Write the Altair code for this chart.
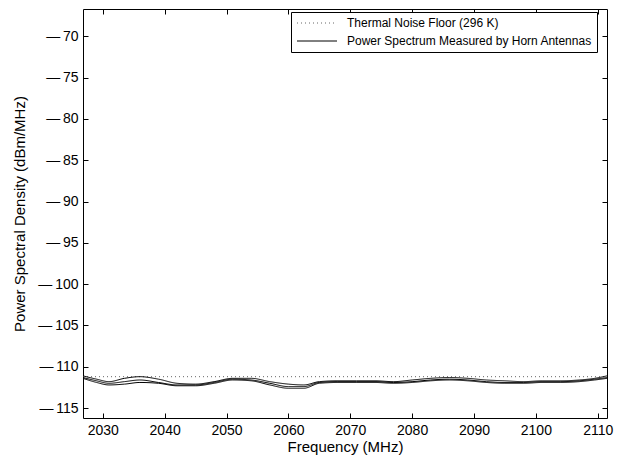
import altair as alt
import pandas as pd

# ---- data ----
freq = [2026.8, 2029, 2031, 2033.5, 2036, 2039, 2042, 2045, 2048, 2051, 2054, 2057,
        2060, 2062.5, 2065, 2068, 2071, 2074, 2077, 2080, 2083, 2086, 2089, 2092,
        2095, 2098, 2101, 2104, 2107, 2109.5, 2111.5]
curve_a = [-111.3, -111.7, -112.0, -111.8, -111.6, -111.9, -112.2, -112.2, -111.9, -111.5,
           -111.6, -112.0, -112.4, -112.4, -111.9, -111.8, -111.8, -111.8, -111.9, -111.8,
           -111.6, -111.5, -111.6, -111.8, -111.9, -111.9, -111.8, -111.8, -111.7, -111.5, -111.3]
curve_b = [-111.1, -111.5, -111.8, -111.4, -111.2, -111.5, -112.0, -112.1, -111.8, -111.4,
           -111.4, -111.8, -112.1, -112.2, -111.8, -111.7, -111.7, -111.7, -111.8, -111.6,
           -111.4, -111.3, -111.4, -111.6, -111.7, -111.8, -111.7, -111.7, -111.6, -111.4, -111.1]
curve_c = [-111.4, -111.9, -112.2, -112.1, -111.9, -112.0, -112.3, -112.3, -112.0, -111.6,
           -111.7, -112.2, -112.6, -112.6, -112.0, -111.9, -111.9, -111.9, -112.0, -111.9,
           -111.7, -111.6, -111.7, -111.9, -112.0, -112.0, -111.9, -111.9, -111.8, -111.6, -111.4]
floor_level = -111.2
series_names = ["Thermal Noise Floor (296 K)", "Power Spectrum Measured by Horn Antennas"]
x_ticks = [2030, 2040, 2050, 2060, 2070, 2080, 2090, 2100, 2110]
y_ticks = [-115, -110, -105, -100, -95, -90, -85, -80, -75, -70]
x_domain = [2026.8, 2111.5]
y_domain = [-116.2, -66.7]

W, H = 524, 409
FONT = "Liberation Sans"

curve_rows = []
for cid, vals in (("a", curve_a), ("b", curve_b), ("c", curve_c)):
    for f, v in zip(freq, vals):
        curve_rows.append({"f": f, "p": v, "series": series_names[1], "curve": cid})
curves_df = pd.DataFrame(curve_rows)
floor_df = pd.DataFrame({"f": x_domain, "p": [floor_level, floor_level],
                         "series": [series_names[0]] * 2})

xscale = alt.Scale(domain=x_domain, nice=False, zero=False)
yscale = alt.Scale(domain=y_domain, nice=False, zero=False)

legend = alt.Legend(title=None, orient="none", legendX=208, legendY=3,
                    strokeColor="black", fillColor="white", padding=5,
                    symbolType="M-4,0H4", symbolSize=100, symbolStrokeWidth=1,
                    symbolFillColor="transparent", symbolOffset=15,
                    labelFontSize=12, labelFont=FONT, labelColor="black",
                    labelLimit=500, rowPadding=6, labelOffset=24, cornerRadius=0)
color = alt.Color("series:N", scale=alt.Scale(domain=series_names, range=["#666666", "black"]),
                  legend=legend)
dash = alt.StrokeDash("series:N", scale=alt.Scale(domain=series_names, range=[[1, 3], [1, 0]]),
                      legend=legend)

tick_axis = dict(labels=False, ticks=True, tickSize=5, tickColor="black", domain=False,
                 grid=False, title=None)

main_x = alt.Axis(values=x_ticks, orient="bottom", ticks=False, domain=False, grid=False,
                  format="d",
                  labelFont=FONT, labelFontSize=14, labelColor="black", labelPadding=5,
                  title="Frequency (MHz)", titleFont=FONT, titleFontSize=15,
                  titleFontWeight="normal", titleColor="black", titlePadding=2)
main_y = alt.Axis(values=y_ticks, orient="left", ticks=False, domain=False, grid=False,
                  labelExpr="datum.value < 0 ? '\u2014\u2009' + abs(datum.value) : '' + datum.value",
                  labelFont=FONT, labelFontSize=14, labelColor="black", labelPadding=5,
                  title="Power Spectral Density (dBm/MHz)", titleFont=FONT, titleFontSize=15,
                  titleFontWeight="normal", titleColor="black", titlePadding=10)

floor_layer = alt.Chart(floor_df).mark_line(strokeWidth=1, clip=True).encode(
    x=alt.X("f:Q", scale=xscale, axis=alt.Axis(values=x_ticks, orient="top", offset=-H, **tick_axis)),
    y=alt.Y("p:Q", scale=yscale, axis=alt.Axis(values=y_ticks, orient="right", offset=-W, **tick_axis)),
    color=color, strokeDash=dash,
)

curve_layer = alt.Chart(curves_df).mark_line(strokeWidth=1, clip=True, interpolate="monotone").encode(
    x=alt.X("f:Q", scale=xscale, axis=main_x),
    y=alt.Y("p:Q", scale=yscale, axis=main_y),
    color=color, strokeDash=dash, detail="curve:N",
)

tick_layer = alt.Chart(floor_df).mark_line(opacity=0).encode(
    x=alt.X("f:Q", scale=xscale, axis=alt.Axis(values=x_ticks, orient="bottom", offset=-H, **tick_axis)),
    y=alt.Y("p:Q", scale=yscale, axis=alt.Axis(values=y_ticks, orient="left", offset=-W, **tick_axis)),
)

chart = alt.layer(floor_layer, curve_layer, tick_layer).resolve_axis(
    x="independent", y="independent"
).properties(
    width=W, height=H,
    autosize=alt.AutoSizeParams(type="none"),
    padding={"left": 75, "top": 1, "right": 26, "bottom": 37},
    background="white",
).configure_view(stroke="black", strokeWidth=1)

chart.save("out.html", embed_options={"renderer": "svg", "actions": False})
